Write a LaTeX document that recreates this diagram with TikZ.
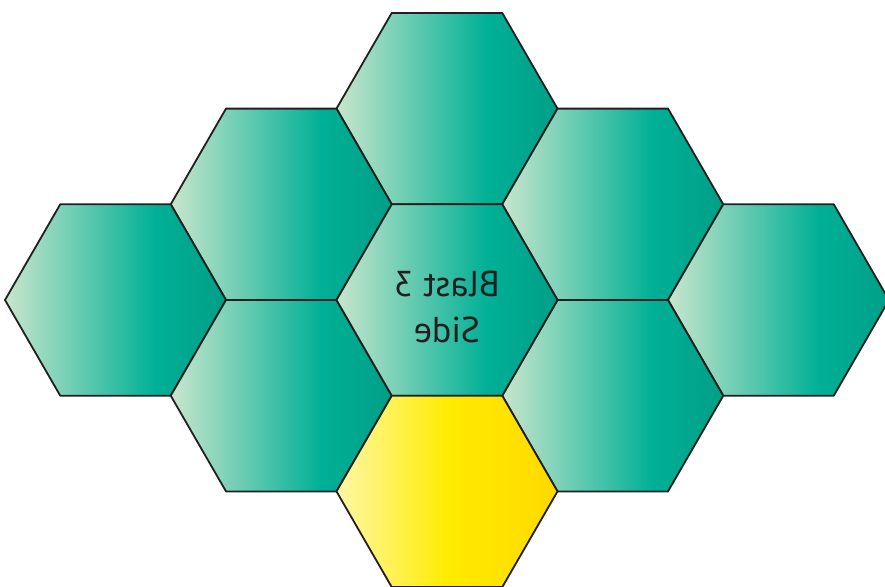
\documentclass[tikz,border=0pt]{standalone}
\usepackage{fontspec}
\setmainfont{PT Sans}
\usepackage{graphicx}
\usetikzlibrary{shapes.geometric}

\definecolor{mintlight}{HTML}{C8E6CC}
\definecolor{tealmid}{HTML}{00B096}
\definecolor{tealdark}{HTML}{009F86}
\definecolor{yellowpale}{HTML}{FFF7A8}
\definecolor{yellowmid}{HTML}{FFEC00}
\definecolor{yellowdeep}{HTML}{FFD900}
\definecolor{hexline}{HTML}{231F20}

\pgfdeclarehorizontalshading{tealfade}{100bp}{color(0bp)=(mintlight); color(25bp)=(mintlight); color(59bp)=(tealmid); color(75bp)=(tealdark); color(100bp)=(tealdark)}
\pgfdeclarehorizontalshading{yellowfade}{100bp}{color(0bp)=(yellowpale); color(25bp)=(yellowpale); color(50bp)=(yellowmid); color(75bp)=(yellowdeep); color(100bp)=(yellowdeep)}

\begin{document}
\begin{tikzpicture}[
  x=1pt, y=-1pt,
  hexcell/.style={regular polygon, regular polygon sides=6, minimum size=221pt, inner sep=0pt, outer sep=0pt, draw=hexline, line width=1.8pt, line join=round, shading=tealfade},
  hexgold/.style={hexcell, shading=yellowfade},
  hexlabel/.style={font=\fontsize{36}{46}\selectfont, align=center, text=hexline}
]
\useasboundingbox (0,0) rectangle (885,586);
\clip (0,0) rectangle (885,586);

\node[hexcell] (top) at (447,108.6) {};
\node[hexcell] (upleft) at (281.25,204.3) {};
\node[hexcell] (upright) at (612.75,204.3) {};
\node[hexcell] (left) at (115.5,300) {};
\node[hexcell] (right) at (778.5,300) {};
\node[hexcell] (lowleft) at (281.25,395.7) {};
\node[hexcell] (lowright) at (612.75,395.7) {};
\node[hexcell, hexlabel] (mid) at (447,300) {\raisebox{-10pt}[\height][\depth]{\reflectbox{\begin{tabular}{@{}c@{}}Blast 3\\Side\end{tabular}}}};
\node[hexgold] (bottom) at (447,491.4) {};
\end{tikzpicture}
\end{document}
